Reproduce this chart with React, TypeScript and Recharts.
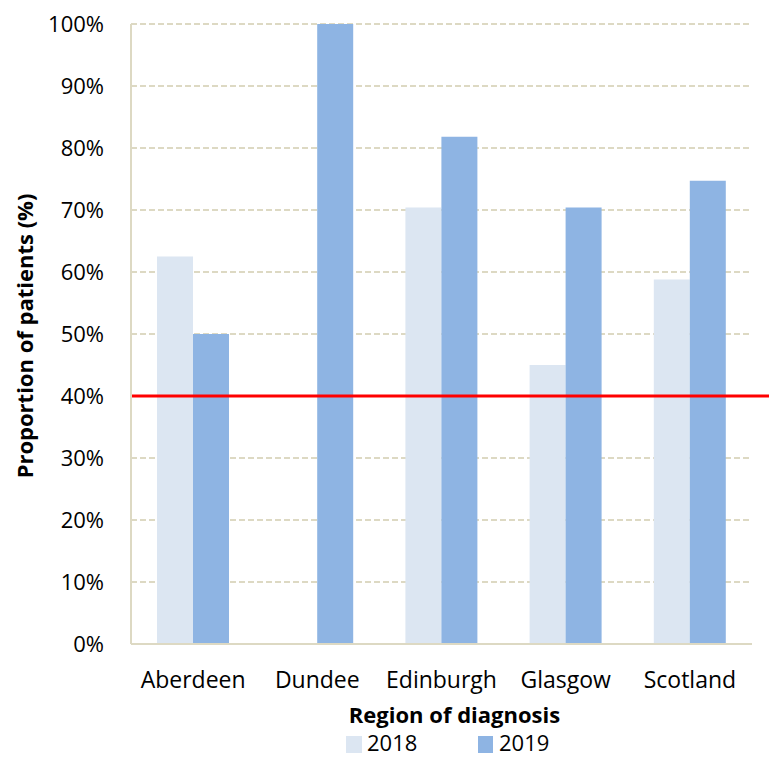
import { BarChart, Bar, XAxis, YAxis, CartesianGrid, ReferenceLine } from 'recharts';

const regions = ['Aberdeen', 'Dundee', 'Edinburgh', 'Glasgow', 'Scotland'];
const share2018 = [62.5, null, 70.4, 45.0, 58.8];
const share2019 = [50.0, 100.0, 81.8, 70.4, 74.7];
const yTicks = [0, 10, 20, 30, 40, 50, 60, 70, 80, 90, 100];
const target = 40;

const data = regions.map((region, i) => ({
  region,
  y2018: share2018[i],
  y2019: share2019[i],
}));

const FONT = '"Open Sans", Lato, sans-serif';
const LIGHT = '#DCE6F2';
const MID = '#8EB4E3';
const GRID = '#DDD9C3';

// bold axis titles, placed relative to the axis box they belong to
const XTitle = ({ viewBox }: any) => (
  <text
    x={viewBox.x + viewBox.width / 2 + 13}
    y={723}
    textAnchor="middle"
    fontSize={22}
    fontWeight={700}
    fontFamily={FONT}
    fill="#000"
  >
    Region of diagnosis
  </text>
);

const YTitle = ({ viewBox }: any) => {
  const cx = 24;
  const cy = viewBox.y + viewBox.height / 2 + 2;
  return (
    <text
      x={cx}
      y={cy}
      transform={`rotate(-90 ${cx} ${cy})`}
      textAnchor="middle"
      dominantBaseline="central"
      fontSize={22}
      fontWeight={700}
      fontFamily={FONT}
      fill="#000"
    >
      Proportion of patients (%)
    </text>
  );
};

export default function App() {
  return (
    <div style={{ position: 'absolute', left: 0, top: 0, width: 769, height: 757, background: '#fff', fontFamily: FONT }}>
      <BarChart
        width={769}
        height={757}
        data={data}
        margin={{ top: 24, right: 17, bottom: 0, left: 0 }}
        barCategoryGap={26}
        barGap={0}
      >
        <CartesianGrid vertical={false} stroke={GRID} strokeWidth={2} strokeDasharray="6 3" />
        <XAxis
          dataKey="region"
          height={113}
          tickSize={0}
          tickMargin={28}
          axisLine={{ stroke: GRID, strokeWidth: 2 }}
          tick={{ fontSize: 23, fill: '#000', fontFamily: FONT }}
          label={<XTitle />}
        />
        <YAxis
          width={131}
          domain={[0, 100]}
          ticks={yTicks}
          interval={0}
          tickSize={0}
          tickMargin={27}
          tickFormatter={(v) => `${v}%`}
          axisLine={{ stroke: GRID, strokeWidth: 2 }}
          tick={{ fontSize: 22, fill: '#000', fontFamily: FONT }}
          label={<YTitle />}
        />
        <Bar dataKey="y2018" name="2018" fill={LIGHT} isAnimationActive={false} />
        <Bar dataKey="y2019" name="2019" fill={MID} isAnimationActive={false} />
        {/* target line runs past the plot to the right edge */}
        <ReferenceLine
          y={target}
          stroke="#FF0000"
          strokeWidth={3}
          shape={(p: any) => (
            <line x1={p.x1} y1={p.y1} x2={769} y2={p.y2} stroke="#FF0000" strokeWidth={3} />
          )}
        />
      </BarChart>
      {/* legend */}
      <div style={{ position: 'absolute', top: 731, left: 0, width: 769, height: 22, fontSize: 22, color: '#000', lineHeight: '22px' }}>
        <div style={{ position: 'absolute', left: 346, top: 5, width: 16, height: 17, background: LIGHT }} />
        <div style={{ position: 'absolute', left: 367, top: 0 }}>2018</div>
        <div style={{ position: 'absolute', left: 478, top: 5, width: 15, height: 17, background: MID }} />
        <div style={{ position: 'absolute', left: 499, top: 0 }}>2019</div>
      </div>
    </div>
  );
}
